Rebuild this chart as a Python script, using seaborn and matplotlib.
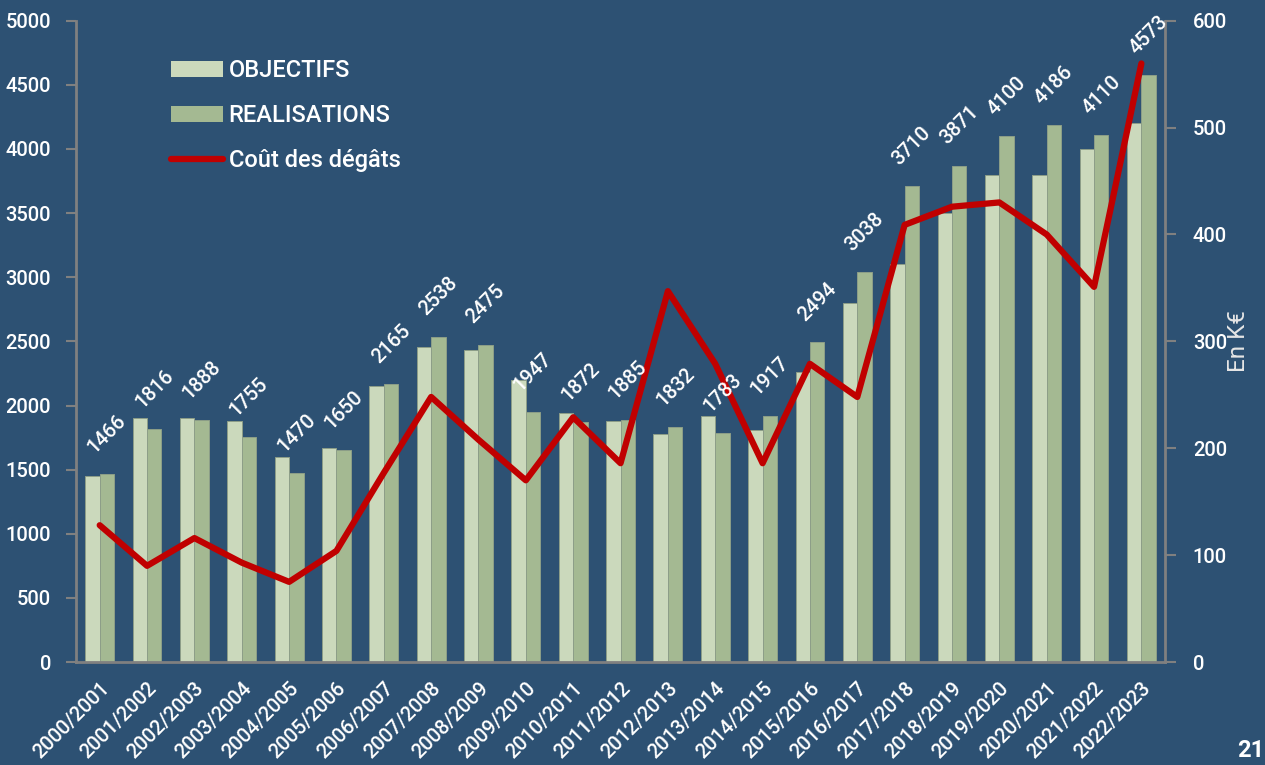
#!/usr/bin/env python3
import numpy as np
import pandas as pd
import matplotlib
matplotlib.use("Agg")
import matplotlib.pyplot as plt
from matplotlib.patches import Patch
from matplotlib.lines import Line2D
import seaborn as sns

# --- Data ---
periodes = [
    "2000/2001", "2001/2002", "2002/2003", "2003/2004", "2004/2005", "2005/2006",
    "2006/2007", "2007/2008", "2008/2009", "2009/2010", "2010/2011", "2011/2012",
    "2012/2013", "2013/2014", "2014/2015", "2015/2016", "2016/2017", "2017/2018",
    "2018/2019", "2019/2020", "2020/2021", "2021/2022", "2022/2023",
]
objectifs = [1450, 1900, 1900, 1880, 1600, 1670, 2150, 2460, 2430, 2200, 1940, 1880,
             1780, 1920, 1810, 2260, 2800, 3100, 3500, 3800, 3800, 4000, 4200]
realisations = [1466, 1816, 1888, 1755, 1470, 1650, 2165, 2538, 2475, 1947, 1872, 1885,
                1832, 1783, 1917, 2494, 3038, 3710, 3871, 4100, 4186, 4110, 4573]
cout_degats = [128, 90, 116, 93, 75, 104, 177, 248, 208, 170, 229, 186,
               347, 279, 186, 279, 248, 409, 426, 430, 400, 351, 560]

series_names = ["OBJECTIFS", "REALISATIONS"]
line_name = "Coût des dégâts"

# --- Style ---
BG = "#2D5173"
C_OBJ = "#CBD9BC"
C_REAL = "#A4B992"
C_LINE = "#C00000"
C_AXIS = "#808080"
FONT = ["Roboto", "DejaVu Sans"]

sns.set_theme(style="white")
plt.rcParams["font.family"] = FONT
plt.rcParams["font.weight"] = "medium"
plt.rcParams["text.color"] = "white"

df = pd.DataFrame({
    "periode": periodes * 2,
    "serie": [series_names[0]] * len(periodes) + [series_names[1]] * len(periodes),
    "valeur": objectifs + realisations,
})

fig = plt.figure(figsize=(12.65, 7.65), dpi=100, facecolor=BG)
ax = fig.add_axes([0.0601, 0.1346, 0.8609, 0.8383])
ax.set_facecolor(BG)

bar_width = 0.61
sns.barplot(
    data=df, x="periode", y="valeur", hue="serie", order=periodes,
    hue_order=series_names, palette=[C_OBJ, C_REAL], width=bar_width,
    edgecolor="#8D9E88", linewidth=0.7, saturation=1, legend=False, ax=ax,
)
ax.set_ylim(0, 5000)
ax.set_xlim(-0.5, len(periodes) - 0.5)
ax.set_yticks(np.arange(0, 5001, 500))
ax.set_xlabel("")
ax.set_ylabel("")

# x ticks: labels at centres, tick marks at category boundaries
ax.set_xticks(range(len(periodes)))
ax.set_xticklabels(periodes, rotation=45, ha="right", rotation_mode="anchor")
ax.set_xticks(np.arange(-0.5, len(periodes), 1), minor=True)
ax.tick_params(axis="x", which="major", length=0, pad=12, labelsize=14.5, labelcolor="white")
ax.tick_params(axis="x", which="minor", length=7, width=1.5, color=C_AXIS, direction="out")
ax.tick_params(axis="y", length=7, width=1.5, color=C_AXIS, pad=11, labelsize=14.5,
               labelcolor="white", left=True)

for side in ["top", "right"]:
    ax.spines[side].set_visible(False)
for side in ["left", "bottom"]:
    ax.spines[side].set_color(C_AXIS)
    ax.spines[side].set_linewidth(2)

# --- Secondary axis: cost line ---
ax2 = ax.twinx()
sns.lineplot(x=np.arange(len(periodes)), y=cout_degats, color=C_LINE, linewidth=4.5,
             ax=ax2, legend=False)
ax2.set_ylim(0, 600)
ax2.set_yticks(np.arange(0, 601, 100))
ax2.set_xlim(-0.5, len(periodes) - 0.5)
ax2.tick_params(axis="y", length=8, width=1.5, color=C_AXIS, pad=12, labelsize=14.5,
                labelcolor="white", right=True)
ax2.set_ylabel("En K€", fontsize=17.5, color="#E6E6E6", labelpad=0)
for side in ["top", "left", "bottom"]:
    ax2.spines[side].set_visible(False)
ax2.spines["right"].set_color(C_AXIS)
ax2.spines["right"].set_linewidth(2)
ax2.grid(False)
ax.grid(False)

# --- Value labels above the realisations bars ---
off = bar_width / 4
for i, v in enumerate(realisations):
    ax2.annotate(
        f"{v}", xy=(i + off, v), xycoords=ax.transData,
        xytext=(0, 29), textcoords="offset points",
        ha="center", va="center", rotation=45, fontsize=14.5, color="white",
    )

# --- Legend ---
handles = [
    Patch(facecolor=C_OBJ, edgecolor="none"),
    Patch(facecolor=C_REAL, edgecolor="none"),
    Line2D([0], [0], color=C_LINE, linewidth=4.5),
]
leg = ax2.legend(
    handles, series_names + [line_name], loc="upper left",
    bbox_to_anchor=(162 / 1265, 1 - 50 / 765), bbox_transform=fig.transFigure,
    frameon=False, fontsize=17, labelcolor="white", handlelength=2.2,
    handleheight=0.7, handletextpad=0.22, labelspacing=0.92, borderaxespad=0,
)

# page number
fig.text(1237 / 1265, 3 / 765, "21", fontsize=17, fontweight="bold",
         color="white", ha="left", va="bottom")

plt.savefig("out.png", dpi=100, facecolor=BG)
plt.close()
